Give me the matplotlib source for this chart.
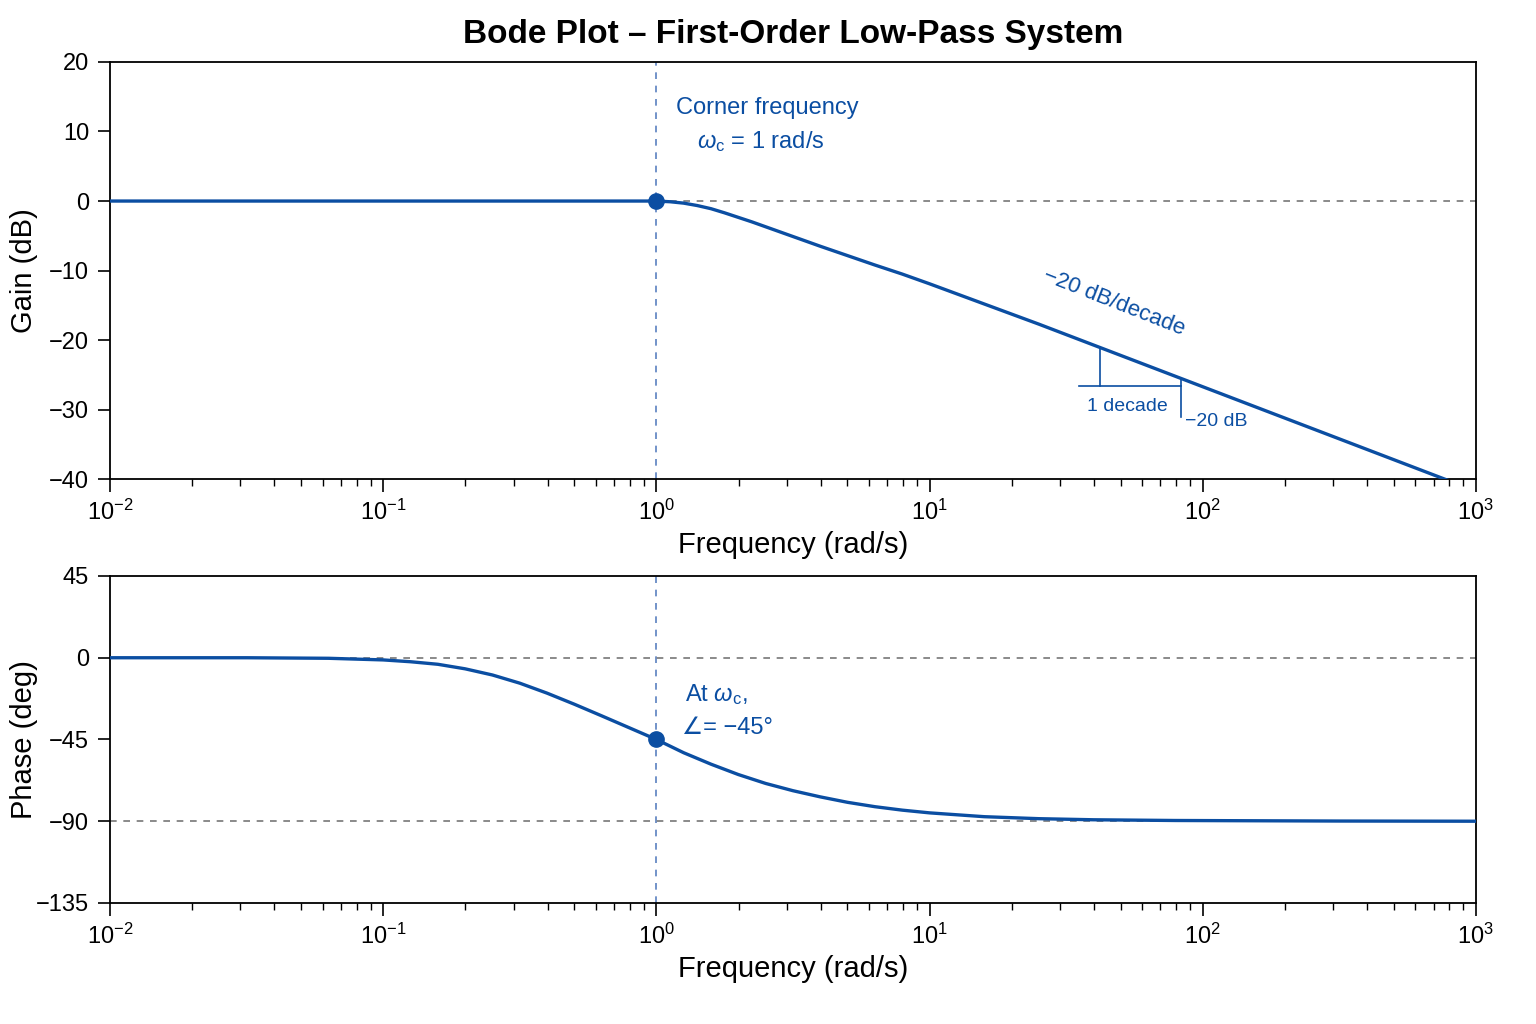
import matplotlib
matplotlib.use("Agg")
import matplotlib.pyplot as plt
import numpy as np

plt.rcParams['font.family'] = ['Liberation Sans', 'DejaVu Sans']
plt.rcParams['mathtext.fontset'] = 'custom'
plt.rcParams['mathtext.rm'] = 'Liberation Sans'
plt.rcParams['mathtext.it'] = 'Liberation Sans:italic'

# values (frequency given as log10 exponent)
gain_log_freq = [-2.0, 0.0, 0.05, 0.1, 0.15, 0.2, 0.25, 0.3, 0.35, 0.4, 0.5,
                 0.6, 0.7, 0.8, 0.9, 1.0, 1.2, 1.4, 1.6, 1.8, 2.0, 2.4, 2.8, 3.0]
gain_db = [0.0, 0.0, -0.1, -0.3, -0.65, -1.1, -1.7, -2.35, -3.0, -3.7, -5.1,
           -6.5, -7.85, -9.2, -10.5, -11.9, -14.8, -17.7, -20.7, -23.7, -26.7,
           -32.7, -38.7, -41.7]

phase_log_freq = [-2.0, -1.5, -1.2, -1.0, -0.9, -0.8, -0.7, -0.6, -0.5, -0.4,
                  -0.3, -0.2, -0.1, 0.0, 0.1, 0.2, 0.3, 0.4, 0.5, 0.6, 0.7,
                  0.8, 0.9, 1.0, 1.2, 1.4, 1.6, 1.9, 2.5, 3.0]
phase_deg = [0.0, 0.0, -0.3, -1.2, -2.2, -3.6, -6.1, -9.5, -14.0, -19.5,
             -25.6, -32.0, -38.5, -45.0, -52.3, -58.6, -64.3, -69.2, -73.2,
             -76.6, -79.6, -82.0, -83.9, -85.4, -87.5, -88.6, -89.2, -89.6,
             -89.9, -90.0]

gain_freq = np.power(10.0, gain_log_freq)
phase_freq = np.power(10.0, phase_log_freq)

corner = 1.0
corner_gain = 0.0
corner_phase = -45.0

# slope triangle (frequencies, dB)
tri_x = [42.1, 83.2]
tri_top = [-21.05, -25.4]
tri_base = -26.6
tri_left = 35.2

blue = '#0b4ea2'
vblue = '#5a80c0'
grey = '#777777'

fig = plt.figure(figsize=(15.36, 10.24), dpi=100)
ax1 = fig.add_axes([0.0716, 0.532, 0.8893, 0.4075])
ax2 = fig.add_axes([0.0716, 0.1182, 0.8893, 0.3193])

for ax in (ax1, ax2):
    ax.set_xscale('log')
    ax.set_xlim(1e-2, 1e3)
    ax.axvline(corner, color=vblue, ls=(0, (4, 4)), lw=1.2, zorder=1)
    ax.tick_params(which='major', length=9, width=1.2, labelsize=17, pad=6)
    ax.tick_params(which='minor', length=5, width=1.0)
    for s in ax.spines.values():
        s.set_linewidth(1.3)
    ax.set_xlabel('Frequency (rad/s)', fontsize=21, labelpad=4)

# gain
ax1.axhline(0, color=grey, ls=(0, (4, 4)), lw=1.2, zorder=1)
ax1.plot(gain_freq, gain_db, color=blue, lw=2.4, zorder=3)
ax1.plot(corner, corner_gain, 'o', color=blue, ms=11, zorder=4)
ax1.set_ylim(-40, 20)
ax1.set_yticks([20, 10, 0, -10, -20, -30, -40])
ax1.set_ylabel('Gain (dB)', fontsize=21)
ax1.yaxis.set_label_coords(-0.053, 0.5)
ax1.set_title('Bode Plot \u2013 First-Order Low-Pass System', fontsize=24,
              fontweight='bold', pad=14)

ax1.text(1.18, 13.4, 'Corner frequency', color=blue, fontsize=17,
         ha='left', va='center')
ax1.text(1.41, 8.5, r'$\omega_\mathrm{c}$ = 1 rad/s', color=blue, fontsize=17,
         ha='left', va='center')
ax1.text(47.3, -14.6, '\u221220 dB/decade', color=blue, fontsize=16,
         rotation=-21.5, ha='center', va='center', rotation_mode='anchor')

ax1.plot([tri_x[0], tri_x[0]], [tri_top[0], tri_base], color=blue, lw=1.2)
ax1.plot([tri_left, tri_x[1]], [tri_base, tri_base], color=blue, lw=1.2)
ax1.plot([tri_x[1], tri_x[1]], [tri_top[1], tri_base - 4.5], color=blue, lw=1.2)
ax1.text(53.0, -29.5, '1 decade', color=blue, fontsize=14,
         ha='center', va='center')
ax1.text(86.0, -31.75, '\u221220 dB', color=blue, fontsize=14,
         ha='left', va='center')

# phase
ax2.axhline(0, color=grey, ls=(0, (4, 4)), lw=1.2, zorder=1)
ax2.axhline(-90, color=grey, ls=(0, (4, 4)), lw=1.2, zorder=1)
ax2.plot(phase_freq, phase_deg, color=blue, lw=2.4, zorder=3)
ax2.plot(corner, corner_phase, 'o', color=blue, ms=11, zorder=4)
ax2.set_ylim(-135, 45)
ax2.set_yticks([45, 0, -45, -90, -135])
ax2.set_ylabel('Phase (deg)', fontsize=21)
ax2.yaxis.set_label_coords(-0.053, 0.5)

ax2.text(1.27, -20.1, r'At $\omega_\mathrm{c}$,', color=blue, fontsize=17,
         ha='left', va='center')
ax2.text(1.24, -38.5, '\u2220= \u221245\u00b0', color=blue, fontsize=17,
         ha='left', va='center')

fig.savefig('out.png', dpi=100)
